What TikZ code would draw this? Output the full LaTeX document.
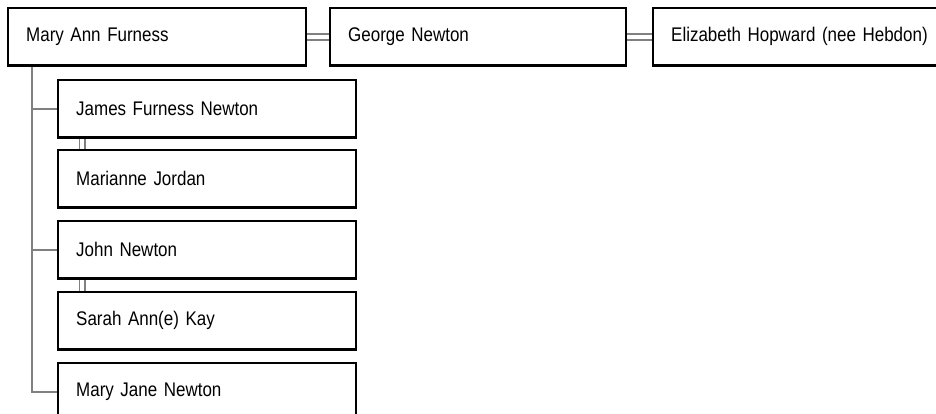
\documentclass[tikz,border=0pt]{standalone}
\usepackage{fontspec}
\setmainfont{Liberation Sans}[FakeStretch=0.86]
\usetikzlibrary{backgrounds}
\definecolor{linegray}{RGB}{128,128,128}
\begin{document}
\begin{tikzpicture}[x=0.75pt,y=-0.75pt,
  person/.style={draw=black, line width=1.8pt, fill=white, rectangle, anchor=north west,
    minimum height=43pt, inner xsep=13.5pt, inner ysep=0pt, text width=196.5pt,
    align=left, font=\fontsize{14.8}{17}\selectfont},
  branch/.style={draw=linegray, line width=1.5pt},
  spouse/.style={draw=linegray, line width=1.35pt, double=white, double distance=3pt}]
\useasboundingbox (0,0) rectangle (936,414);
\clip (0,0) rectangle (936,414);
% top row
\node[person] (ma) at (7,7) {Mary Ann Furness};
\node[person, text width=195pt] (gn) at (329,7) {George Newton};
\node[person, text width=220pt] (eh) at (652,7) {Elizabeth Hopward (nee Hebdon)};
% children and spouses
\node[person] (jf) at (57,79) {James Furness Newton};
\node[person] (mj) at (57,149) {Marianne Jordan};
\node[person] (jn) at (57,220) {John Newton};
\node[person] (sk) at (57,291) {Sarah Ann(e) Kay};
\node[person] (mn) at (57,362) {Mary Jane Newton};
\begin{scope}[on background layer]
  \draw[spouse] (ma.east) -- (gn.west);
  \draw[spouse] (gn.east) -- (eh.west);
  \draw[spouse] ([xshift=19.1pt]jf.south west) -- ([xshift=19.1pt]mj.north west);
  \draw[spouse] ([xshift=19.1pt]jn.south west) -- ([xshift=19.1pt]sk.north west);
  \draw[branch] ([xshift=18.75pt]ma.south west) |- (jf.west);
  \draw[branch] ([xshift=18.75pt]ma.south west) |- (jn.west);
  \draw[branch] ([xshift=18.75pt]ma.south west) |- (mn.west);
\end{scope}
\end{tikzpicture}
\end{document}
